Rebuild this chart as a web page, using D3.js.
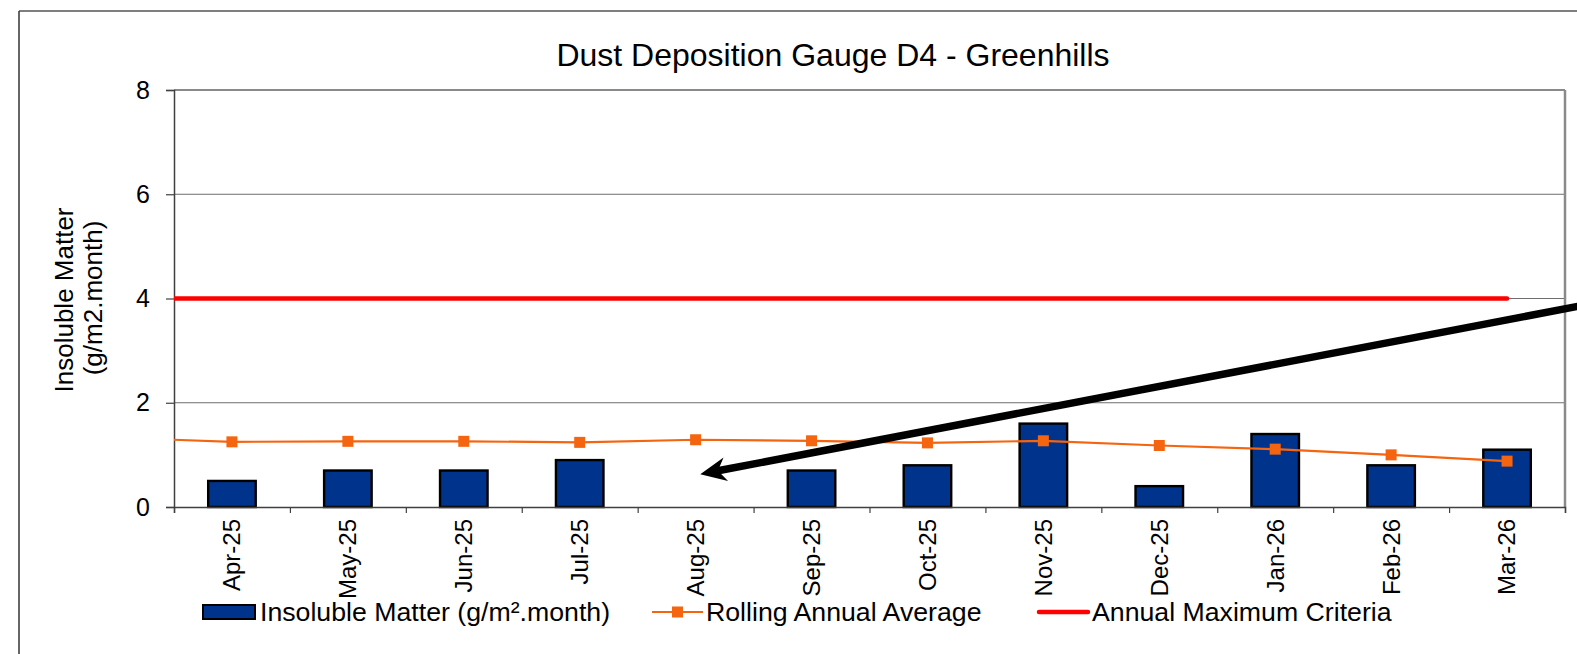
<!DOCTYPE html>
<html>
<head>
<meta charset="utf-8">
<script src="https://cdn.jsdelivr.net/npm/d3@7/dist/d3.min.js"></script>
<style>
  html, body { margin: 0; padding: 0; background: #fff; }
  svg { display: block; font-family: "Liberation Sans", Arial, sans-serif; }
</style>
</head>
<body>
<svg id="chart" width="1577" height="654"></svg>
<script>
// ---- Data ----
const categories = ["Apr-25","May-25","Jun-25","Jul-25","Aug-25","Sep-25","Oct-25","Nov-25","Dec-25","Jan-26","Feb-26","Mar-26"];
const insolubleMatter = [0.5, 0.7, 0.7, 0.9, null, 0.7, 0.8, 1.6, 0.4, 1.4, 0.8, 1.1];
// rolling average: first value belongs to the month before the chart window (Mar-25), clipped off
const rollingLeadIn = 1.33;
const rollingAverage = [1.25, 1.26, 1.26, 1.24, 1.29, 1.27, 1.23, 1.27, 1.18, 1.11, 1.00, 0.88];
const criteriaLeadIn = 4;
const annualMaxCriteria = [4, 4, 4, 4, 4, 4, 4, 4, 4, 4, 4, 4];
const yTicks = [0, 2, 4, 6, 8];
const gridValues = [2, 4, 6];
const titleText = "Dust Deposition Gauge D4 - Greenhills";
const yTitleLines = ["Insoluble Matter", "(g/m2.month)"];
const legendLabels = ["Insoluble Matter (g/m\u00b2.month)", "Rolling Annual Average", "Annual Maximum Criteria"];
// arrow annotation, in (category index, value) units
const arrowTail = [12.3, 3.93];
const arrowTip = [4.54, 0.63];

// ---- Layout ----
const svg = d3.select("#chart");
const W = 1577, H = 654;
const plot = { left: 174, right: 1565, top: 90, bottom: 507 };
const colors = { bar: "#00338c", rolling: "#f5640f", criteria: "#ff0000" };

svg.append("rect").attr("width", W).attr("height", H).attr("fill", "#fff");

// outer chart frame
svg.append("line").attr("x1", 19).attr("x2", W).attr("y1", 11).attr("y2", 11)
   .attr("stroke", "#7f7f7f").attr("stroke-width", 2);
svg.append("line").attr("x1", 19).attr("x2", 19).attr("y1", 11).attr("y2", H)
   .attr("stroke", "#333").attr("stroke-width", 1.5);

// scales
const xBand = d3.scaleBand().domain(categories).range([plot.left, plot.right]).paddingInner(0).paddingOuter(0);
const xIdx = d3.scaleLinear().domain([0, categories.length]).range([plot.left, plot.right]);
const xc = i => xIdx(i + 0.5);
const y = d3.scaleLinear().domain([0, 8]).range([plot.bottom, plot.top]);

// clip
svg.append("clipPath").attr("id", "plotclip").append("rect")
  .attr("x", plot.left).attr("y", plot.top)
  .attr("width", plot.right - plot.left).attr("height", plot.bottom - plot.top);

// gridlines
svg.append("g").selectAll("line").data(gridValues).join("line")
  .attr("x1", plot.left).attr("x2", plot.right)
  .attr("y1", d => y(d)).attr("y2", d => y(d))
  .attr("stroke", "#6e6e6e").attr("stroke-width", 1);

// plot frame top & right
svg.append("line").attr("x1", plot.left).attr("x2", plot.right).attr("y1", plot.top).attr("y2", plot.top)
  .attr("stroke", "#8a8a8a").attr("stroke-width", 2);
svg.append("line").attr("x1", plot.right).attr("x2", plot.right).attr("y1", plot.top).attr("y2", plot.bottom)
  .attr("stroke", "#8a8a8a").attr("stroke-width", 2.5);

// bars
const barW = xBand.bandwidth() * 0.41;
svg.append("g").selectAll("rect")
  .data(insolubleMatter.map((v, i) => ({ v, i })).filter(d => d.v != null))
  .join("rect")
  .attr("x", d => xBand(categories[d.i]) + xBand.bandwidth() / 2 - barW / 2)
  .attr("y", d => y(d.v))
  .attr("width", barW)
  .attr("height", d => y(0) - y(d.v))
  .attr("fill", colors.bar).attr("stroke", "#000").attr("stroke-width", 2.4);

// Y axis
const yAxis = svg.append("g").attr("transform", `translate(${plot.left},0)`)
  .call(d3.axisLeft(y).tickValues(yTicks).tickSize(8).tickPadding(16).tickFormat(d3.format("d")));
yAxis.select(".domain").attr("stroke", "#404040").attr("stroke-width", 1.5);
yAxis.selectAll(".tick line").attr("stroke", "#404040").attr("stroke-width", 1.2);
yAxis.selectAll(".tick text").attr("font-size", 25).attr("fill", "#000")
  .attr("font-family", "Liberation Sans, Arial, sans-serif");

// X axis ticks (between categories)
const xAxisTicks = svg.append("g").attr("transform", `translate(0,${plot.bottom})`)
  .call(d3.axisBottom(xIdx).tickValues(d3.range(categories.length + 1)).tickSize(6).tickFormat(""));
xAxisTicks.select(".domain").attr("stroke", "#404040").attr("stroke-width", 1.5);
xAxisTicks.selectAll(".tick line").attr("stroke", "#404040").attr("stroke-width", 1.2);

// X axis labels
const xAxisLabels = svg.append("g").attr("transform", `translate(0,${plot.bottom})`)
  .call(d3.axisBottom(xBand).tickSize(0).tickPadding(0));
xAxisLabels.select(".domain").remove();
xAxisLabels.selectAll(".tick text")
  .attr("font-size", 24).attr("fill", "#000")
  .attr("font-family", "Liberation Sans, Arial, sans-serif")
  .attr("text-anchor", "end")
  .attr("transform", "translate(0,12) rotate(-90)")
  .attr("x", 0).attr("y", 0).attr("dy", "0.35em");

// lines (clipped)
const lineGen = d3.line().x(d => xc(d.i)).y(d => y(d.v));
const rollingPts = [{ i: -1, v: rollingLeadIn }].concat(rollingAverage.map((v, i) => ({ i, v })));
const criteriaPts = [{ i: -1, v: criteriaLeadIn }].concat(annualMaxCriteria.map((v, i) => ({ i, v })));
const clipG = svg.append("g").attr("clip-path", "url(#plotclip)");
clipG.append("path").datum(criteriaPts).attr("d", lineGen)
  .attr("fill", "none").attr("stroke", colors.criteria).attr("stroke-width", 4.5).attr("stroke-linecap", "round");
clipG.append("path").datum(rollingPts).attr("d", lineGen)
  .attr("fill", "none").attr("stroke", colors.rolling).attr("stroke-width", 2.2);
svg.append("g").selectAll("rect").data(rollingPts.filter(d => d.i >= 0)).join("rect")
  .attr("x", d => xc(d.i) - 5.5).attr("y", d => y(d.v) - 5.5)
  .attr("width", 11).attr("height", 11).attr("fill", colors.rolling);

// arrow annotation
(function () {
  const tx = xIdx(arrowTip[0]), ty = y(arrowTip[1]);
  const sx = xIdx(arrowTail[0]), sy = y(arrowTail[1]);
  const len = Math.hypot(tx - sx, ty - sy);
  const ux = (tx - sx) / len, uy = (ty - sy) / len;
  const nx = -uy, ny = ux;
  const L = 26, Wd = 12, N = 18;
  svg.append("line").attr("x1", sx).attr("y1", sy)
    .attr("x2", tx - ux * N).attr("y2", ty - uy * N)
    .attr("stroke", "#000").attr("stroke-width", 7.5);
  const pts = [
    [tx, ty],
    [tx - ux * L + nx * Wd, ty - uy * L + ny * Wd],
    [tx - ux * N, ty - uy * N],
    [tx - ux * L - nx * Wd, ty - uy * L - ny * Wd]
  ];
  svg.append("path").attr("d", "M" + pts.map(p => p.join(",")).join("L") + "Z").attr("fill", "#000");
})();

// title
svg.append("text").attr("x", 833).attr("y", 66).attr("text-anchor", "middle")
  .attr("font-size", 32).attr("fill", "#000").text(titleText);

// y axis title
svg.append("text").attr("transform", "translate(73,300) rotate(-90)")
  .attr("text-anchor", "middle").attr("font-size", 26).attr("fill", "#000").text(yTitleLines[0]);
svg.append("text").attr("transform", "translate(102,298) rotate(-90)")
  .attr("text-anchor", "middle").attr("font-size", 26).attr("fill", "#000").text(yTitleLines[1]);

// legend
const lg = svg.append("g");
const ly = 612, lBase = 621;
lg.append("rect").attr("x", 203).attr("y", ly - 7).attr("width", 52).attr("height", 14)
  .attr("fill", colors.bar).attr("stroke", "#000").attr("stroke-width", 2);
lg.append("text").attr("x", 260).attr("y", lBase).attr("font-size", 26.7).attr("fill", "#000").text(legendLabels[0]);
lg.append("line").attr("x1", 652).attr("x2", 703).attr("y1", ly).attr("y2", ly)
  .attr("stroke", colors.rolling).attr("stroke-width", 2.2);
lg.append("rect").attr("x", 672).attr("y", ly - 5.5).attr("width", 11).attr("height", 11).attr("fill", colors.rolling);
lg.append("text").attr("x", 706).attr("y", lBase).attr("font-size", 26.7).attr("fill", "#000").text(legendLabels[1]);
lg.append("line").attr("x1", 1039).attr("x2", 1088).attr("y1", ly).attr("y2", ly)
  .attr("stroke", colors.criteria).attr("stroke-width", 4.5).attr("stroke-linecap", "round");
lg.append("text").attr("x", 1092).attr("y", lBase).attr("font-size", 26.7).attr("fill", "#000").text(legendLabels[2]);
</script>
</body>
</html>
